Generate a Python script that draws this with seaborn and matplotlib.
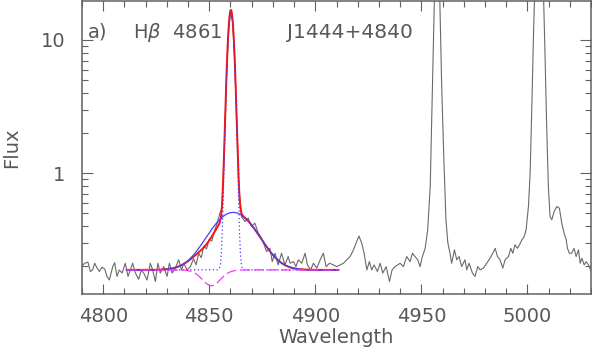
import numpy as np
import pandas as pd
import matplotlib
matplotlib.use("Agg")
import matplotlib.pyplot as plt
import seaborn as sns
from matplotlib.ticker import FixedLocator, FixedFormatter, MultipleLocator, LogLocator, NullFormatter

# ---------------- data ----------------
wave = [4790.0, 4791.3, 4792.8, 4793.9, 4795.0, 4796.0, 4797.1, 4798.2, 4799.4, 4800.7,
        4801.8, 4802.9, 4804.5, 4805.4, 4806.5, 4807.6, 4808.9, 4810.4, 4811.7, 4812.8,
        4813.9, 4815.2, 4816.7, 4818.0, 4819.1, 4820.7, 4822.2, 4823.3, 4824.6, 4825.8,
        4826.9, 4828.5, 4830.1, 4831.2, 4832.5, 4834.0, 4835.6, 4836.9, 4838.0, 4839.5,
        4841.1, 4842.6, 4843.8, 4845.0, 4846.2, 4847.5, 4848.7, 4850.0, 4851.2, 4852.5,
        4853.7, 4855.0, 4856.0, 4857.0, 4858.0, 4859.0, 4860.0, 4861.0, 4862.0, 4863.0,
        4864.0, 4865.2, 4866.8, 4868.4, 4869.9, 4871.5, 4873.1, 4874.7, 4876.2, 4877.0,
        4878.6, 4879.7, 4881.0, 4882.5, 4884.1, 4885.7, 4887.2, 4888.1, 4889.7, 4890.9,
        4892.0, 4893.6, 4895.2, 4896.3, 4897.8, 4899.1, 4900.7, 4902.3, 4903.8, 4905.1,
        4906.7, 4908.5, 4910.1, 4911.7, 4913.3, 4914.8, 4916.4, 4918.0, 4919.2, 4920.6,
        4921.9, 4923.0, 4924.3, 4925.5, 4926.6, 4927.7, 4929.3, 4930.6, 4931.8, 4933.4,
        4935.0, 4936.2, 4937.6, 4940.0, 4941.5, 4943.1, 4944.7, 4945.8, 4947.0, 4948.3,
        4949.4, 4950.5, 4951.8, 4953.0, 4954.2, 4955.3, 4956.2, 4957.4, 4958.6, 4959.6,
        4960.6, 4961.6, 4962.5, 4963.5, 4964.3, 4965.6, 4966.7, 4967.8, 4969.0, 4970.6,
        4971.4, 4972.5, 4974.1, 4975.3, 4976.6, 4977.7, 4979.3, 4980.8, 4982.4, 4983.7,
        4984.8, 4985.9, 4987.1, 4988.4, 4989.5, 4991.1, 4992.2, 4993.1, 4994.2, 4995.3,
        4996.3, 4997.4, 4998.5, 4999.4, 5000.5, 5001.3, 5002.1, 5002.9, 5003.9, 5005.5,
        5007.2, 5008.3, 5009.1, 5009.9, 5010.7, 5011.5, 5012.6, 5013.9, 5015.1, 5016.2,
        5017.3, 5018.3, 5018.9, 5019.8, 5020.9, 5022.0, 5023.0, 5024.1, 5024.9, 5025.7,
        5026.8, 5027.7, 5028.8, 5030.1]
flux = [0.201, 0.211, 0.215, 0.183, 0.188, 0.211, 0.194, 0.183, 0.197, 0.191,
        0.168, 0.158, 0.199, 0.213, 0.168, 0.188, 0.178, 0.211, 0.168, 0.188,
        0.211, 0.178, 0.160, 0.188, 0.178, 0.158, 0.211, 0.188, 0.154, 0.211,
        0.178, 0.199, 0.168, 0.211, 0.178, 0.194, 0.224, 0.188, 0.211, 0.188,
        0.199, 0.228, 0.205, 0.250, 0.232, 0.285, 0.270, 0.320, 0.310, 0.370,
        0.420, 0.500, 0.550, 1.30, 4.50, 11.0, 16.0, 13.8, 7.00, 2.30,
        0.780, 0.472, 0.434, 0.459, 0.398, 0.422, 0.355, 0.325, 0.281, 0.258,
        0.273, 0.217, 0.251, 0.205, 0.251, 0.205, 0.237, 0.211, 0.217, 0.199,
        0.224, 0.211, 0.251, 0.205, 0.188, 0.211, 0.194, 0.224, 0.251, 0.199,
        0.211, 0.205, 0.199, 0.205, 0.211, 0.224, 0.237, 0.266, 0.298, 0.338,
        0.298, 0.251, 0.188, 0.217, 0.188, 0.205, 0.183, 0.211, 0.178, 0.199,
        0.154, 0.188, 0.199, 0.211, 0.199, 0.237, 0.217, 0.251, 0.237, 0.224,
        0.199, 0.237, 0.273, 0.376, 0.800, 5.00, 22.0, 45.0, 24.0, 4.50,
        1.30, 0.450, 0.300, 0.251, 0.211, 0.266, 0.224, 0.237, 0.199, 0.224,
        0.188, 0.211, 0.178, 0.168, 0.199, 0.188, 0.194, 0.211, 0.230, 0.251,
        0.273, 0.237, 0.224, 0.194, 0.224, 0.237, 0.273, 0.251, 0.290, 0.273,
        0.290, 0.316, 0.334, 0.376, 0.562, 1.00, 3.16, 11.2, 40.0, 130.0,
        40.0, 8.00, 2.24, 0.790, 0.472, 0.447, 0.515, 0.562, 0.546, 0.422,
        0.355, 0.316, 0.273, 0.251, 0.251, 0.273, 0.237, 0.266, 0.211, 0.230,
        0.205, 0.217, 0.205, 0.183]

# fitted components (parameters)
cont_level = 0.188
broad_center, broad_amp, broad_sigma = 4861.3, 0.32, 10.0
narrow_center, narrow_amp, narrow_sigma = 4860.2, 16.3, 1.35
abs_center, abs_depth, abs_sigma = 4851.0, 0.045, 4.5
fit_start, fit_end = 4811.0, 4911.0

x_major = [4800, 4850, 4900, 4950, 5000]
y_major = [1, 10]
y_major_labels = ["1", "10"]
panel_label = "a)"
line_label = r"H$\beta$  4861"
object_label = "J1444+4840"

# ---------------- figure ----------------
sns.set_style("ticks")
plt.rcParams["font.family"] = ["DejaVu Sans"]
TXT = "#585858"
AX = "#606060"

W, H = 592, 350
fig = plt.figure(figsize=(W / 100, H / 100), dpi=100)
ax = fig.add_axes([82 / W, (H - 294) / H, 509 / W, 293 / H])
ax.set_yscale("log")

spec = pd.DataFrame({"wave": wave, "flux": flux})
sns.lineplot(data=spec, x="wave", y="flux", sort=False, estimator=None,
             color="#6a6a6a", lw=0.8, ax=ax)

mw = np.linspace(fit_start, fit_end, 800)
g_broad = broad_amp * np.exp(-(mw - broad_center) ** 2 / (2 * broad_sigma ** 2))
g_narrow = narrow_amp * np.exp(-(mw - narrow_center) ** 2 / (2 * narrow_sigma ** 2))
g_abs = -abs_depth * np.exp(-(mw - abs_center) ** 2 / (2 * abs_sigma ** 2))
model = pd.DataFrame({
    "wave": mw,
    "total": cont_level + g_broad + g_narrow + g_abs,
    "broad": cont_level + g_broad,
    "narrow": cont_level + g_narrow,
    "absn": cont_level + g_abs,
})
sns.lineplot(data=model, x="wave", y="total", sort=False, estimator=None,
             color="#ff1010", lw=1.4, ax=ax)
sns.lineplot(data=model, x="wave", y="broad", sort=False, estimator=None,
             color="#4040ff", lw=0.9, ax=ax)
sns.lineplot(data=model, x="wave", y="narrow", sort=False, estimator=None,
             color="#4040ff", lw=0.9, linestyle=(0, (1, 2)), ax=ax)
sns.lineplot(data=model, x="wave", y="absn", sort=False, estimator=None,
             color="#ff30ff", lw=0.9, linestyle=(0, (8, 3)), ax=ax)

ax.set_xlim(4790, 5030)
ax.set_ylim(0.124, 19.6)

ax.xaxis.set_major_locator(FixedLocator(x_major))
ax.xaxis.set_minor_locator(MultipleLocator(10))
ax.yaxis.set_major_locator(FixedLocator(y_major))
ax.yaxis.set_major_formatter(FixedFormatter(y_major_labels))
ax.yaxis.set_minor_locator(LogLocator(base=10, subs=np.arange(2, 10)))
ax.yaxis.set_minor_formatter(NullFormatter())

ax.tick_params(axis="both", which="both", direction="in", top=True, right=True,
               color=AX, width=0.8, labelcolor=TXT, labelsize=14)
ax.tick_params(axis="x", which="major", length=7.5, pad=9)
ax.tick_params(axis="x", which="minor", length=4.5)
ax.tick_params(axis="y", which="major", length=8, pad=12)
ax.tick_params(axis="y", which="minor", length=4)
for s in ax.spines.values():
    s.set_color(AX)
    s.set_linewidth(1.1)

ax.set_xlabel("Wavelength", fontsize=14, color=TXT, labelpad=2)
ax.set_ylabel("Flux", fontsize=14, color=TXT, labelpad=14)

fig.text(88 / W, 1 - 37.5 / H, panel_label, fontsize=14, color=TXT, va="baseline", ha="left")
fig.text(133 / W, 1 - 37.5 / H, line_label, fontsize=14, color=TXT, va="baseline", ha="left")
fig.text(287 / W, 1 - 37.5 / H, object_label, fontsize=14.5, color=TXT, va="baseline", ha="left")

fig.savefig("out.png", dpi=100)
